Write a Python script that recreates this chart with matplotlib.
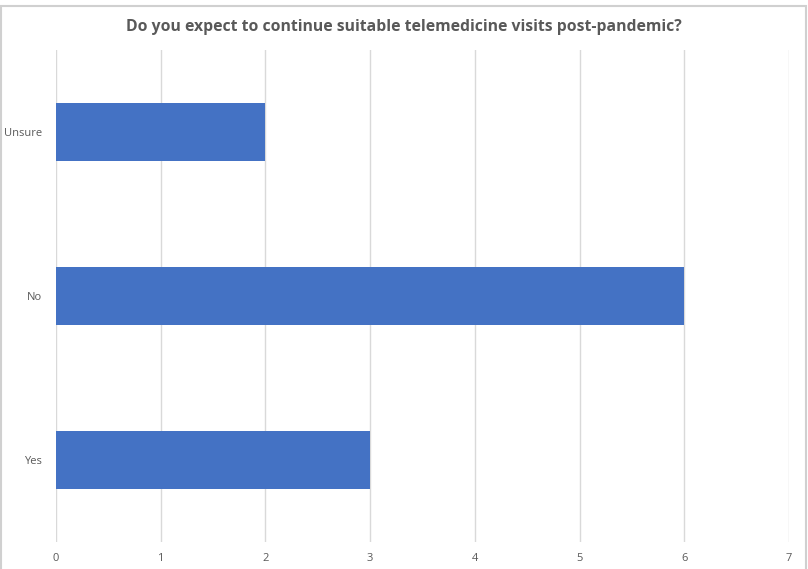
import matplotlib.pyplot as plt
from matplotlib.patches import Rectangle

# survey answers, listed bottom to top as drawn
answers = ['Yes', 'No', 'Unsure']
counts = [3, 6, 2]

title = 'Do you expect to continue suitable telemedicine visits post-pandemic?'
text_grey = '#595959'
bar_blue = '#4472C4'
grid_grey = '#D9D9D9'

fig = plt.figure(figsize=(8.08, 5.69), dpi=100)
ax = fig.add_axes([56 / 808, 1 - 542 / 569, 733 / 808, 492 / 569])

ax.barh(answers, counts, height=0.355, color=bar_blue, zorder=3)

ax.set_xlim(0, 7)
ax.set_ylim(-0.5, 2.5)
ax.set_xticks(range(0, 8))
ax.xaxis.grid(True, color=grid_grey, linewidth=1, zorder=0)
for s in ax.spines.values():
    s.set_visible(False)
ax.tick_params(axis='both', length=0, labelsize=8, labelcolor=text_grey,
               labelfontfamily='Open Sans')
ax.tick_params(axis='x', pad=8)
ax.tick_params(axis='y', pad=10)

fig.text(0.5, 1 - 27 / 569, title, ha='center', va='center', fontsize=11.3,
         fontweight='bold', color=text_grey, family='Open Sans')

# light border round the chart area
fig.patches.append(Rectangle((0.001, -0.01), 0.997, 1.0, transform=fig.transFigure,
                             fill=False, edgecolor='#D0D0D0', linewidth=1.5))

fig.savefig('out.png', dpi=100)
